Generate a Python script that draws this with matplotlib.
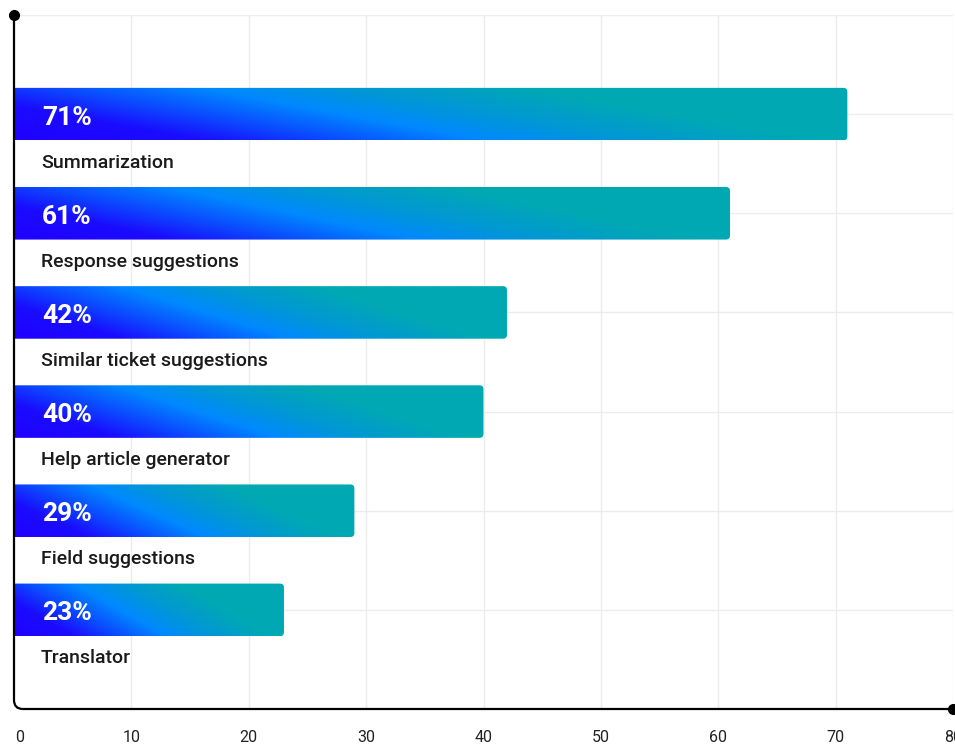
import numpy as np
import matplotlib
matplotlib.use("Agg")
import matplotlib.pyplot as plt
from matplotlib.path import Path
from matplotlib.patches import PathPatch
from matplotlib.colors import to_rgb
from matplotlib.transforms import ScaledTranslation

categories = ["Summarization", "Response suggestions", "Similar ticket suggestions",
              "Help article generator", "Field suggestions", "Translator"]
shares = [71, 61, 42, 40, 29, 23]
x_ticks = [0, 10, 20, 30, 40, 50, 60, 70, 80]

plt.rcParams["font.family"] = ["Roboto", "DejaVu Sans"]

# gradient stops along the bar: deep violet-blue -> bright blue -> teal
stops = [(0.00, "#2000ff"), (0.22, "#1a0cff"), (0.40, "#0a50ff"), (0.56, "#0088ff"),
         (0.74, "#0098d4"), (0.95, "#00a8b4"), (1.40, "#00a8b4")]
stop_t = np.array([s[0] for s in stops])
stop_rgb = np.array([to_rgb(s[1]) for s in stops])


def gradient_image(nx=400, ny=60, tilt=0.34):
    u = np.linspace(0, 1, nx)[None, :]
    v = np.linspace(1, 0, ny)[:, None]  # row 0 is the visual top
    t = u + tilt * v
    img = np.zeros((ny, nx, 3))
    for k in range(3):
        img[..., k] = np.interp(t, stop_t, stop_rgb[:, k])
    return img


def bar_path(x0, x1, y_top, y_bot, rx, ry):
    # square on the left, rounded corners on the right
    verts = [(x0, y_top), (x1 - rx, y_top), (x1, y_top), (x1, y_top + ry),
             (x1, y_bot - ry), (x1, y_bot), (x1 - rx, y_bot), (x0, y_bot), (x0, y_top)]
    codes = [Path.MOVETO, Path.LINETO, Path.CURVE3, Path.CURVE3,
             Path.LINETO, Path.CURVE3, Path.CURVE3, Path.LINETO, Path.CLOSEPOLY]
    return Path(verts, codes)


fig = plt.figure(figsize=(9.55, 7.49), dpi=100)
ax = fig.add_axes([14 / 955, 40 / 749, 939 / 955, 694 / 749])

xmax = 80
ypos = np.arange(len(categories))
bar_h = 0.53

ax.set_xlim(0, xmax)
ax.set_ylim(len(categories), -1)

# light grid behind the bars
for xv in x_ticks[1:]:
    ax.axvline(xv, color="#ececec", lw=1, zorder=0)
for yv in range(-1, len(categories)):
    ax.axhline(yv, color="#ececec", lw=1, zorder=0)

px_x = 939 / xmax
px_y = 694 / (len(categories) + 1)
rx, ry = 4 / px_x, 4 / px_y

for y, val, name in zip(ypos, shares, categories):
    top, bot = y - bar_h / 2, y + bar_h / 2
    patch = PathPatch(bar_path(0, val, top, bot, rx, ry), facecolor="none",
                      edgecolor="none", zorder=2)
    ax.add_patch(patch)
    im = ax.imshow(gradient_image(), extent=(0, val, bot, top), origin="upper",
                   aspect="auto", interpolation="bilinear", zorder=2)
    im.set_clip_path(patch)
    ax.text(2.4, y + 0.035, f"{val}%", color="white", fontsize=19,
            fontweight="bold", va="center", ha="left", zorder=3)
    ax.text(2.3, y + 0.49, name, color="#1a1a1a", fontsize=14,
            fontweight="medium", va="center", ha="left", zorder=3)

ax.set_xlim(0, xmax)
ax.set_ylim(len(categories), -1)

# axis lines: left and bottom joined with a rounded corner, dots at the ends
for s in ax.spines.values():
    s.set_visible(False)
cx, cy = 9 / 939, 9 / 694
spine = Path([(0, 1), (0, cy), (0, 0), (cx, 0), (1, 0)],
             [Path.MOVETO, Path.LINETO, Path.CURVE3, Path.CURVE3, Path.LINETO])
ax.add_patch(PathPatch(spine, transform=ax.transAxes, facecolor="none",
                       edgecolor="black", lw=1.6, clip_on=False, zorder=4))
ax.plot([0, 1], [1, 0], "o", color="black", markersize=7,
        transform=ax.transAxes, clip_on=False, zorder=5)

ax.set_yticks([])
ax.set_xticks(x_ticks)
ax.set_xticklabels([str(t) for t in x_ticks])
ax.tick_params(axis="x", length=0, pad=15, labelsize=11.5, labelcolor="#222222")
first = ax.get_xticklabels()[0]
first.set_transform(first.get_transform() + ScaledTranslation(6 / 100, 0, fig.dpi_scale_trans))

fig.savefig("out.png", dpi=100, facecolor="white")
